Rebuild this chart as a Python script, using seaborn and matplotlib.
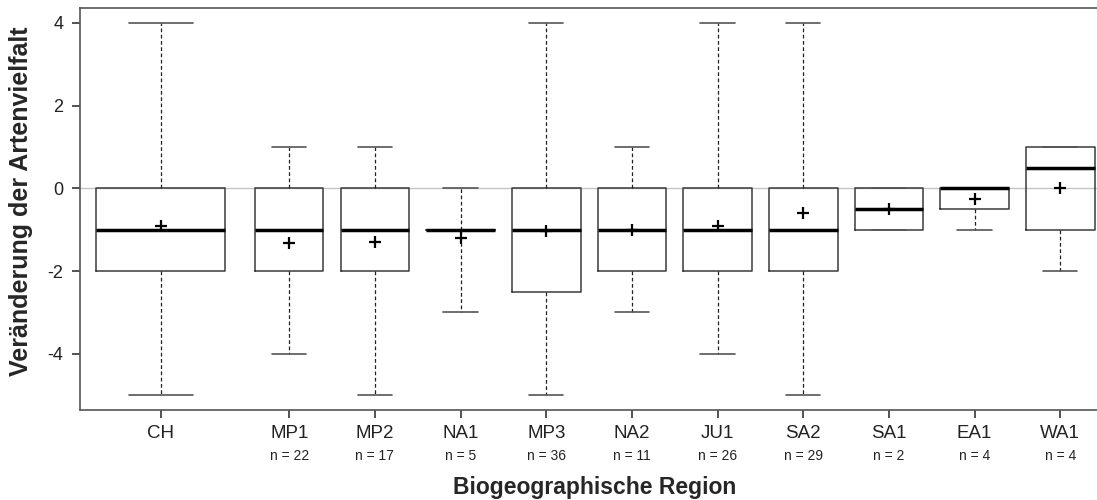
import numpy as np
import pandas as pd
import matplotlib
matplotlib.use("Agg")
import matplotlib.pyplot as plt
import seaborn as sns

# Regionen und Stichprobengroessen
regions = ["CH", "MP1", "MP2", "NA1", "MP3", "NA2", "JU1", "SA2", "SA1", "EA1", "WA1"]
n_obs = [None, 22, 17, 5, 36, 11, 26, 29, 2, 4, 4]

# Boxplot-Kennwerte
whisk_lo = [-5, -4, -5, -3, -5, -3, -4, -5, -1, -1, -2]
q1 = [-2, -2, -2, -1, -2.5, -2, -2, -2, -1, -0.5, -1]
median = [-1, -1, -1, -1, -1, -1, -1, -1, -0.5, 0, 0.5]
q3 = [0, 0, 0, -1, 0, 0, 0, 0, 0, 0, 1]
whisk_hi = [4, 1, 1, 0, 4, 1, 4, 4, 0, 0, 1]
means = [-0.92, -1.33, -1.3, -1.2, -1.03, -1.0, -0.92, -0.59, -0.5, -0.25, 0.0]

# x-Positionen (Luecke nach CH)
positions = [0] + [1.5 + i for i in range(len(regions) - 1)]

# Tabelle: je Region min, q1, median, q3, max
rows = []
for pos, lo, a, m, b, hi in zip(positions, whisk_lo, q1, median, q3, whisk_hi):
    for v in (lo, a, m, b, hi):
        rows.append({"pos": pos, "wert": v})
df = pd.DataFrame(rows)

sns.set_style("ticks")
plt.rcParams["font.family"] = ["Liberation Sans", "DejaVu Sans"]
plt.rcParams["axes.unicode_minus"] = False

fig = plt.figure(figsize=(10.97, 5), dpi=100)
# Plotbereich reicht etwas ueber den rechten Bildrand hinaus
ax = fig.add_axes([80 / 1097, 90 / 500, 1030 / 1097, 402 / 500])

ax.axhline(0, color="#c4c4c4", lw=1, zorder=0.5)

box_kw = dict(
    x="pos", y="wert", native_scale=True, fill=False, whis=(0, 100),
    showfliers=False, ax=ax, color="#333333",
    boxprops=dict(color="#3a3a3a", linewidth=1.1),
    whiskerprops=dict(color="#222222", linestyle=(0, (3, 2)), linewidth=0.9),
    capprops=dict(color="#555555", linewidth=1.2),
    medianprops=dict(color="black", linewidth=2.5),
)
sns.boxplot(data=df[df["pos"] == 0], width=1.5, **box_kw)
sns.boxplot(data=df[df["pos"] > 0], width=0.8, **box_kw)

# Mittelwerte als Kreuze
ax.scatter(positions, means, marker="+", s=80, color="black",
           linewidths=1.6, zorder=5)

ax.set_xlim(-0.942, 11.08)
ax.set_ylim(-5.36, 4.36)
ax.set_yticks([-4, -2, 0, 2, 4])
ax.set_xticks(positions)
ax.set_xticklabels(regions, fontsize=13.5)

for pos, n in zip(positions, n_obs):
    if n is not None:
        ax.text(pos, -0.114, f"n = {n}", transform=ax.get_xaxis_transform(),
                ha="center", va="center", fontsize=10, color="#222222")

for side in ["left", "bottom", "top"]:
    ax.spines[side].set_color("#555555")
    ax.spines[side].set_linewidth(1.2)
ax.spines["right"].set_visible(False)

ax.set_xlabel("Biogeographische Region", fontsize=16.5, fontweight="bold", labelpad=24)
ax.set_ylabel("Veränderung der Artenvielfalt", fontsize=18, fontweight="bold")
ax.yaxis.set_label_coords(-47 / 1030, 0.52)

# Striche zuletzt setzen
ax.tick_params(axis="both", which="major", direction="out", length=6, width=1.3,
               color="#444444", bottom=True, left=True, labelcolor="#222222")
ax.tick_params(axis="y", labelsize=13, pad=6)
ax.tick_params(axis="x", pad=5)
for t in ax.xaxis.get_major_ticks() + ax.yaxis.get_major_ticks():
    t.tick1line.set_visible(True)
    t.tick1line.set_markersize(6)
    t.tick1line.set_markeredgewidth(1.3)
    t.tick1line.set_markeredgecolor("#444444")

fig.savefig("out.png", dpi=100)
